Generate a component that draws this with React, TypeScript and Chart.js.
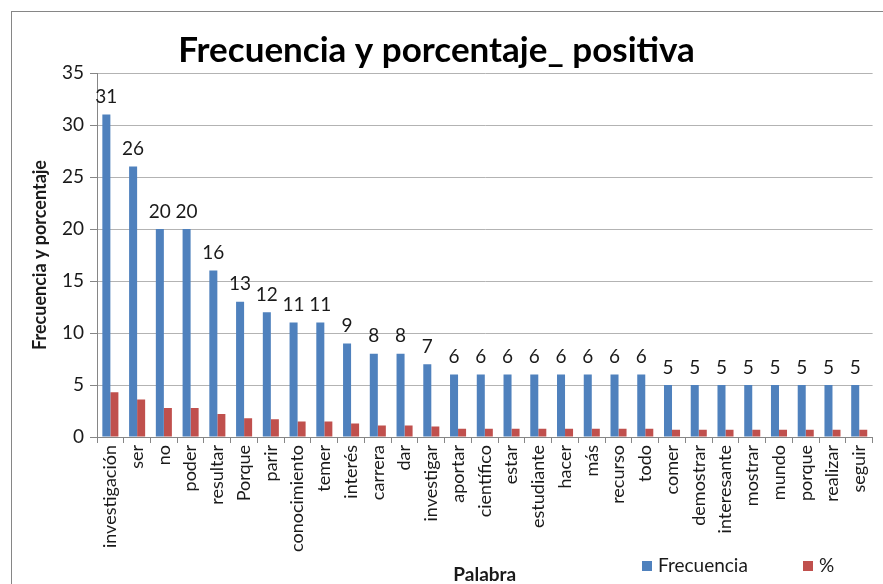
import React, { useEffect, useRef } from "react";
import { Chart, registerables } from "chart.js";

Chart.register(...registerables);

const categories = [
  "investigación", "ser", "no", "poder", "resultar", "Porque", "parir",
  "conocimiento", "temer", "interés", "carrera", "dar", "investigar",
  "aportar", "científico", "estar", "estudiante", "hacer", "más", "recurso",
  "todo", "comer", "demostrar", "interesante", "mostrar", "mundo", "porque",
  "realizar", "seguir",
];
const frecuencia = [31, 26, 20, 20, 16, 13, 12, 11, 11, 9, 8, 8, 7, 6, 6, 6, 6, 6, 6, 6, 6, 5, 5, 5, 5, 5, 5, 5, 5];
const porcentaje = [4.3, 3.6, 2.8, 2.8, 2.2, 1.8, 1.7, 1.5, 1.5, 1.3, 1.1, 1.1, 1.0, 0.8, 0.8, 0.8, 0.8, 0.8, 0.8, 0.8, 0.8, 0.7, 0.7, 0.7, 0.7, 0.7, 0.7, 0.7, 0.7];
const yTicks = [0, 5, 10, 15, 20, 25, 30, 35];

const FONT = "Lato, 'Open Sans', sans-serif";
const BLUE = "#4F81BD";
const RED = "#C0504D";

const framePlugin = {
  id: "frame",
  beforeDraw(chart: any) {
    const ctx = chart.ctx;
    ctx.save();
    ctx.fillStyle = "#ffffff";
    ctx.fillRect(0, 0, chart.width, chart.height);
    ctx.strokeStyle = "#868686";
    ctx.lineWidth = 1;
    ctx.strokeRect(11.5, 11.5, chart.width + 50, chart.height + 50);
    ctx.restore();
  },
};

const labelsPlugin = {
  id: "valueLabels",
  afterDatasetsDraw(chart: any) {
    const ctx = chart.ctx;
    const meta = chart.getDatasetMeta(0);
    const data = chart.data.datasets[0].data;
    ctx.save();
    ctx.font = `19px ${FONT}`;
    ctx.fillStyle = "#1a1a1a";
    ctx.textAlign = "center";
    ctx.textBaseline = "bottom";
    meta.data.forEach((bar: any, i: number) => {
      ctx.fillText(String(data[i]), bar.x, bar.y - 8);
    });
    ctx.restore();
  },
};

const legendPlugin = {
  id: "customLegend",
  afterDraw(chart: any) {
    const ctx = chart.ctx;
    const items = [
      { x: 642, ds: chart.data.datasets[0] },
      { x: 803, ds: chart.data.datasets[1] },
    ];
    ctx.save();
    ctx.font = `19px ${FONT}`;
    ctx.textBaseline = "middle";
    ctx.textAlign = "left";
    items.forEach((it) => {
      ctx.fillStyle = it.ds.backgroundColor;
      ctx.fillRect(it.x, 561, 10, 10);
      ctx.fillStyle = "#1a1a1a";
      ctx.fillText(it.ds.label, it.x + 16, 566);
    });
    ctx.restore();
  },
};

export default function App() {
  const ref = useRef<HTMLCanvasElement | null>(null);
  useEffect(() => {
    if (!ref.current) return;
    const chart = new Chart(ref.current, {
      type: "bar",
      data: {
        labels: categories,
        datasets: [
          { label: "Frecuencia", data: frecuencia, backgroundColor: BLUE, categoryPercentage: 0.6, barPercentage: 1.0 },
          { label: "%", data: porcentaje, backgroundColor: RED, categoryPercentage: 0.6, barPercentage: 1.0 },
        ],
      },
      options: {
        responsive: false,
        animation: false,
        layout: { padding: { left: 0, right: 10, top: 0, bottom: 0 } },
        plugins: {
          legend: { display: false },
          tooltip: { enabled: false },
          title: {
            display: true,
            text: "Frecuencia y porcentaje_ positiva",
            font: { family: FONT, size: 35, weight: "bold" },
            color: "#000",
            padding: { top: 30, bottom: 1 },
          },
        },
        scales: {
          x: {
            afterFit(scale: any) {
              scale.height = 147;
            },
            grid: {
              display: true,
              drawOnChartArea: false,
              drawTicks: true,
              tickLength: 6,
              color: "#868686",
            },
            border: { display: true, color: "#868686" },
            ticks: {
              minRotation: 90,
              maxRotation: 90,
              autoSkip: false,
              padding: 2,
              color: "#1a1a1a",
              font: { family: FONT, size: 18 },
            },
            title: {
              display: true,
              text: "Palabra",
              color: "#1a1a1a",
              font: { family: FONT, size: 19, weight: "bold", lineHeight: 1.0 },
              padding: { top: 0, bottom: 0 },
            },
          },
          y: {
            min: 0,
            max: 35,
            afterFit(scale: any) {
              scale.width = 97;
            },
            afterBuildTicks(scale: any) {
              scale.ticks = yTicks.map((v) => ({ value: v }));
            },
            grid: {
              color: "#b3b3b3",
              tickColor: "#868686",
              tickLength: 7,
            },
            border: { display: true, color: "#868686" },
            ticks: {
              padding: 6,
              color: "#1a1a1a",
              font: { family: FONT, size: 19 },
            },
            title: {
              display: true,
              text: "Frecuencia y porcentaje",
              color: "#1a1a1a",
              font: { family: FONT, size: 18, weight: "bold" },
              padding: { top: 29, bottom: 0 },
            },
          },
        },
      },
      plugins: [framePlugin, labelsPlugin, legendPlugin],
    } as any);
    return () => chart.destroy();
  }, []);
  return (
    <div style={{ position: "absolute", left: 0, top: 0, width: 883, height: 584 }}>
      <canvas ref={ref} width={883} height={584} style={{ display: "block" }} />
    </div>
  );
}
